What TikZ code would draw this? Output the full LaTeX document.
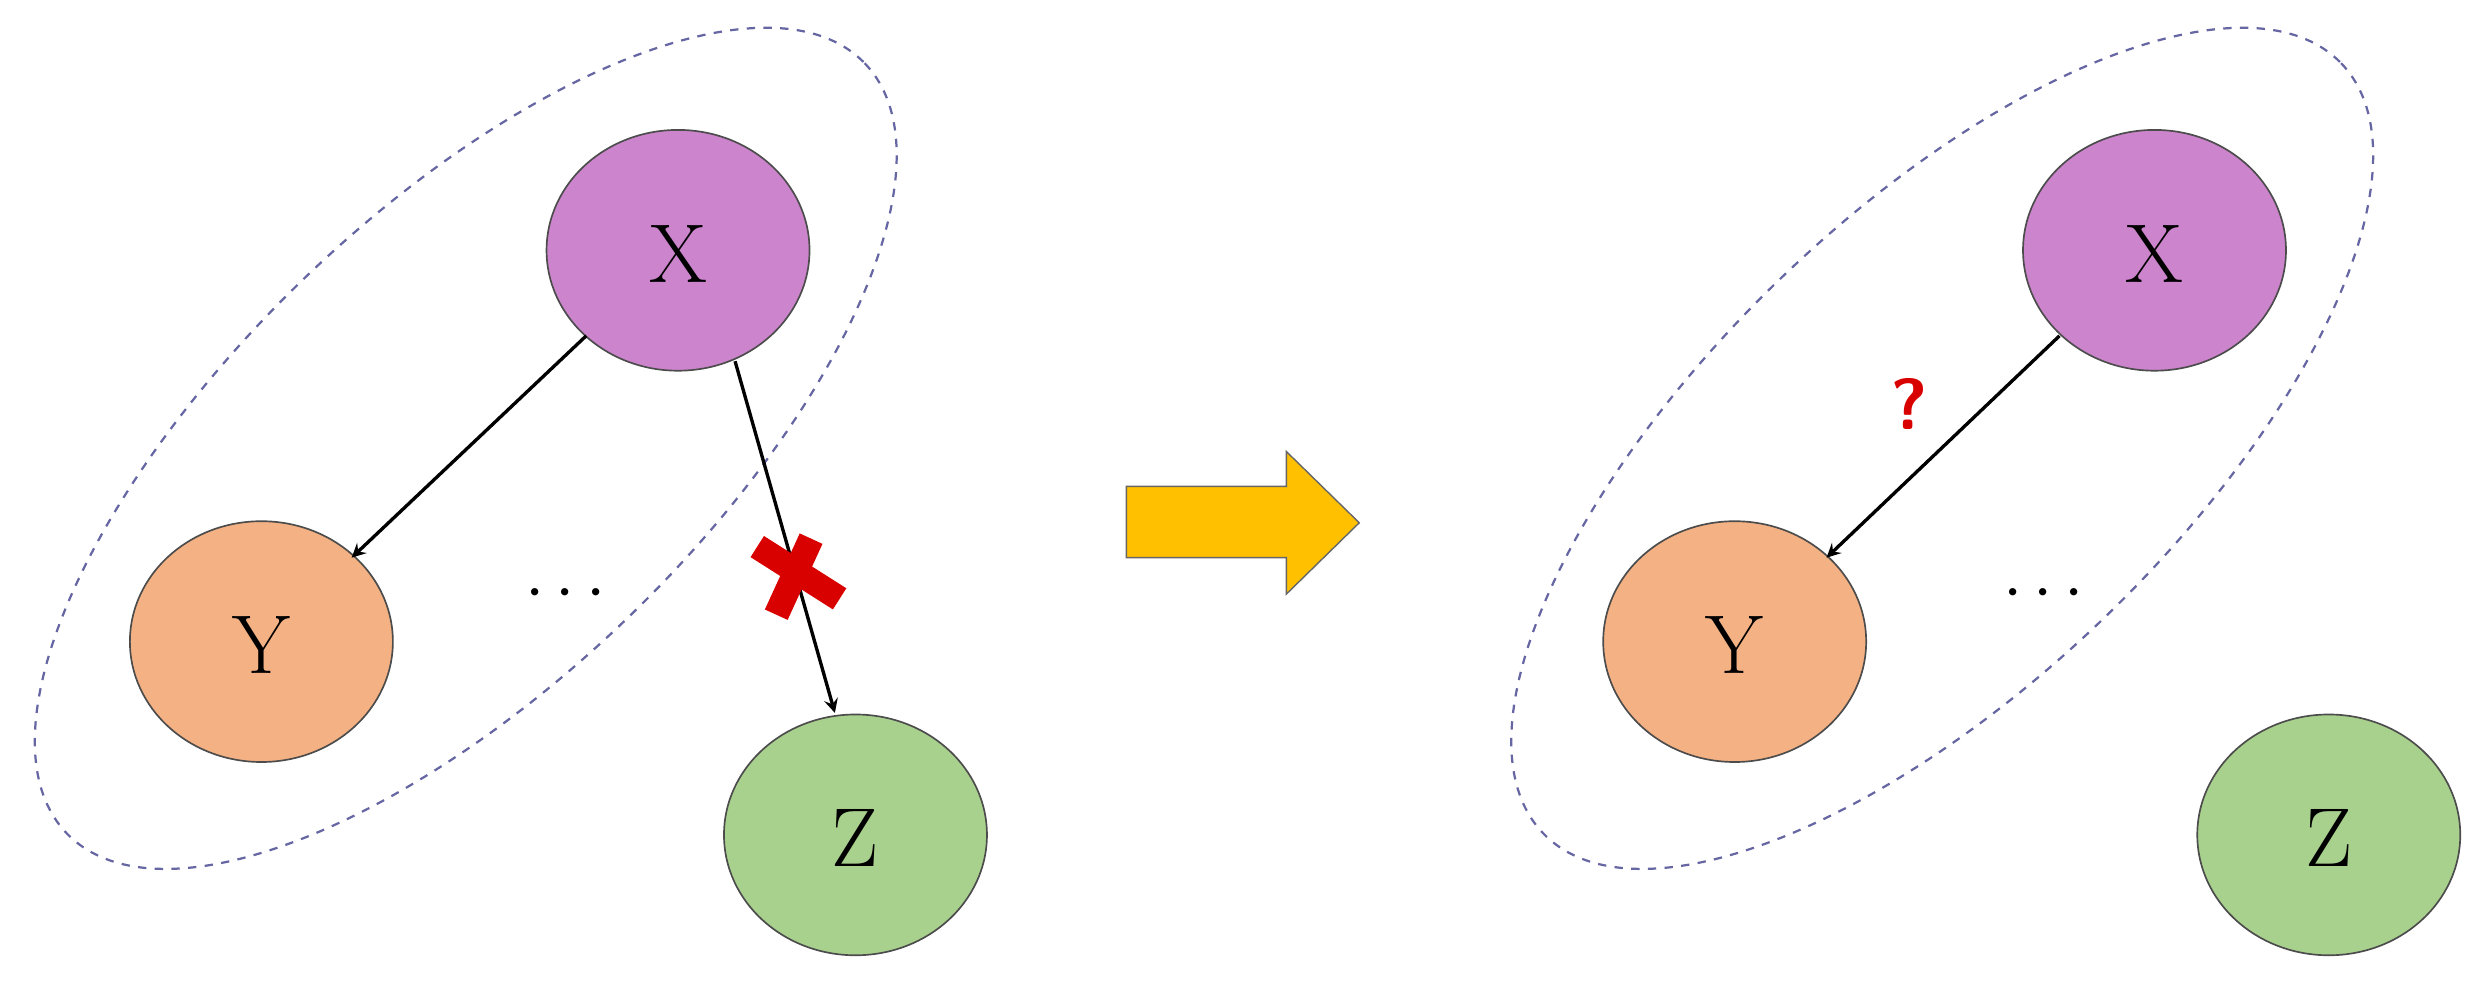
\documentclass[tikz,border=0pt]{standalone}
\usepackage{tikz}
\begin{document}
\begin{tikzpicture}[x=0.02cm,y=-0.02cm,
  blob/.style={draw=black!70,line width=0.6pt},
  lbl/.style={font=\fontsize{30}{32}\selectfont},
  arr/.style={-stealth,line width=1.2pt},
  dashell/.style={draw=black!60!blue!60,dashed,line width=0.8pt}]
\useasboundingbox (0,0) rectangle (1568,620);
\definecolor{cx}{HTML}{CC84CC}\definecolor{cy}{HTML}{F4B183}\definecolor{cz}{HTML}{A9D18E}\definecolor{cyel}{HTML}{FFC000}
% left
\draw[dashell,rotate around={44:(294,283)}] (294,283) ellipse (350 and 148);
\filldraw[blob,fill=cx] (428,158) ellipse (83 and 76);
\filldraw[blob,fill=cy] (165,405) ellipse (83 and 76);
\filldraw[blob,fill=cz] (540,527) ellipse (83 and 76);
\node[lbl] (X1) at (428,160) {X};
\node[lbl] (Y1) at (165,407) {Y};
\node[lbl] (Z1) at (540,529) {Z};
\node[lbl] (d1) at (357,375) {$\cdots$};
\coordinate (a1) at (370,212); \coordinate (b1) at (222,352);
\coordinate (a2) at (464,228); \coordinate (b2) at (527,450);
\draw[arr] (a1) -- (b1);
\draw[arr] (a2) -- (b2);
\draw[red!85!black,line width=9pt] (478,345) -- (530,378) (490,388) -- (512,340);
% big arrow
\filldraw[fill=cyel,draw=black!60,line width=0.5pt] (711,307) -- (812,307) -- (812,285) -- (858,330) -- (812,375) -- (812,352) -- (711,352) -- cycle;
% right
\draw[dashell,rotate around={44:(1226,283)}] (1226,283) ellipse (350 and 148);
\filldraw[blob,fill=cx] (1360,158) ellipse (83 and 76);
\filldraw[blob,fill=cy] (1095,405) ellipse (83 and 76);
\filldraw[blob,fill=cz] (1470,527) ellipse (83 and 76);
\node[lbl] (X2) at (1360,160) {X};
\node[lbl] (Y2) at (1095,407) {Y};
\node[lbl] (Z2) at (1470,529) {Z};
\node[lbl] (d2) at (1290,375) {$\cdots$};
\coordinate (a3) at (1300,212); \coordinate (b3) at (1153,352);
\draw[arr] (a3) -- (b3);
\node[text=red!85!black,font=\sffamily\bfseries\fontsize{26}{28}\selectfont] (q) at (1205,255) {?};
\end{tikzpicture}
\end{document}
